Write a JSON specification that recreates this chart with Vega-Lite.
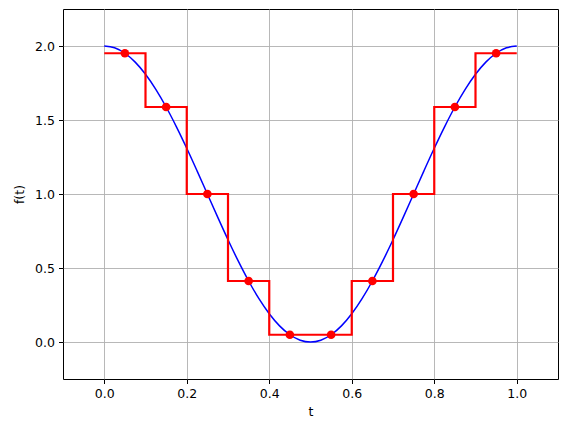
{
  "$schema": "https://vega.github.io/schema/vega-lite/v6.json",
  "width": 495,
  "height": 370,
  "autosize": "none",
  "padding": {"left": 63, "top": 9, "right": 7, "bottom": 49},
  "background": "white",
  "config": {
    "view": {"stroke": "black", "strokeWidth": 1},
    "axis": {
      "domain": false,
      "grid": true,
      "gridColor": "#b0b0b0",
      "gridWidth": 0.9,
      "tickColor": "black",
      "tickSize": 4.5,
      "tickWidth": 1,
      "labelColor": "black",
      "labelFont": "DejaVu Sans",
      "labelFontSize": 12.5,
      "titleFont": "DejaVu Sans",
      "titleFontSize": 12.5,
      "titleFontWeight": "normal",
      "titleColor": "black",
      "labelPadding": 4
    }
  },
  "layer": [
    {
      "data": {"values": [
        {"t": 0, "f": 2}, {"t": 0.025, "f": 1.98769}, {"t": 0.05, "f": 1.95106}, {"t": 0.075, "f": 1.89101},
        {"t": 0.1, "f": 1.80902}, {"t": 0.125, "f": 1.70711}, {"t": 0.15, "f": 1.58779}, {"t": 0.175, "f": 1.45399},
        {"t": 0.2, "f": 1.30902}, {"t": 0.225, "f": 1.15643}, {"t": 0.25, "f": 1.0}, {"t": 0.275, "f": 0.84357},
        {"t": 0.3, "f": 0.69098}, {"t": 0.325, "f": 0.54601}, {"t": 0.35, "f": 0.41221}, {"t": 0.375, "f": 0.29289},
        {"t": 0.4, "f": 0.19098}, {"t": 0.425, "f": 0.10899}, {"t": 0.45, "f": 0.04894}, {"t": 0.475, "f": 0.01231},
        {"t": 0.5, "f": 0}, {"t": 0.525, "f": 0.01231}, {"t": 0.55, "f": 0.04894}, {"t": 0.575, "f": 0.10899},
        {"t": 0.6, "f": 0.19098}, {"t": 0.625, "f": 0.29289}, {"t": 0.65, "f": 0.41221}, {"t": 0.675, "f": 0.54601},
        {"t": 0.7, "f": 0.69098}, {"t": 0.725, "f": 0.84357}, {"t": 0.75, "f": 1.0}, {"t": 0.775, "f": 1.15643},
        {"t": 0.8, "f": 1.30902}, {"t": 0.825, "f": 1.45399}, {"t": 0.85, "f": 1.58779}, {"t": 0.875, "f": 1.70711},
        {"t": 0.9, "f": 1.80902}, {"t": 0.925, "f": 1.89101}, {"t": 0.95, "f": 1.95106}, {"t": 0.975, "f": 1.98769},
        {"t": 1.0, "f": 2}
      ]},
      "mark": {"type": "line", "color": "#0000ff", "strokeWidth": 1.5, "interpolate": "monotone"},
      "encoding": {
        "x": {"field": "t", "type": "quantitative", "scale": {"domain": [-0.1, 1.1], "nice": false, "zero": false},
              "axis": {"values": [0, 0.2, 0.4, 0.6, 0.8, 1.0], "format": ".1f", "title": "t", "titlePadding": 5}},
        "y": {"field": "f", "type": "quantitative", "scale": {"domain": [-0.25, 2.25], "nice": false, "zero": false},
              "axis": {"values": [0, 0.5, 1.0, 1.5, 2.0], "format": ".1f", "title": "f(t)", "titlePadding": 8}}
      }
    },
    {
      "data": {"values": [
        {"t": 0, "f": 1.95106}, {"t": 0.1, "f": 1.58779}, {"t": 0.2, "f": 1.0}, {"t": 0.3, "f": 0.41221},
        {"t": 0.4, "f": 0.04894}, {"t": 0.5, "f": 0.04894}, {"t": 0.6, "f": 0.41221}, {"t": 0.7, "f": 1.0},
        {"t": 0.8, "f": 1.58779}, {"t": 0.9, "f": 1.95106}, {"t": 1.0, "f": 1.95106}
      ]},
      "mark": {"type": "line", "color": "#ff0000", "strokeWidth": 2.2, "interpolate": "step-after"},
      "encoding": {
        "x": {"field": "t", "type": "quantitative"},
        "y": {"field": "f", "type": "quantitative"}
      }
    },
    {
      "data": {"values": [
        {"t": 0.05, "f": 1.95106}, {"t": 0.15, "f": 1.58779}, {"t": 0.25, "f": 1.0}, {"t": 0.35, "f": 0.41221},
        {"t": 0.45, "f": 0.04894}, {"t": 0.55, "f": 0.04894}, {"t": 0.65, "f": 0.41221}, {"t": 0.75, "f": 1.0},
        {"t": 0.85, "f": 1.58779}, {"t": 0.95, "f": 1.95106}
      ]},
      "mark": {"type": "circle", "color": "#ff0000", "opacity": 1, "size": 75},
      "encoding": {
        "x": {"field": "t", "type": "quantitative"},
        "y": {"field": "f", "type": "quantitative"}
      }
    }
  ]
}
